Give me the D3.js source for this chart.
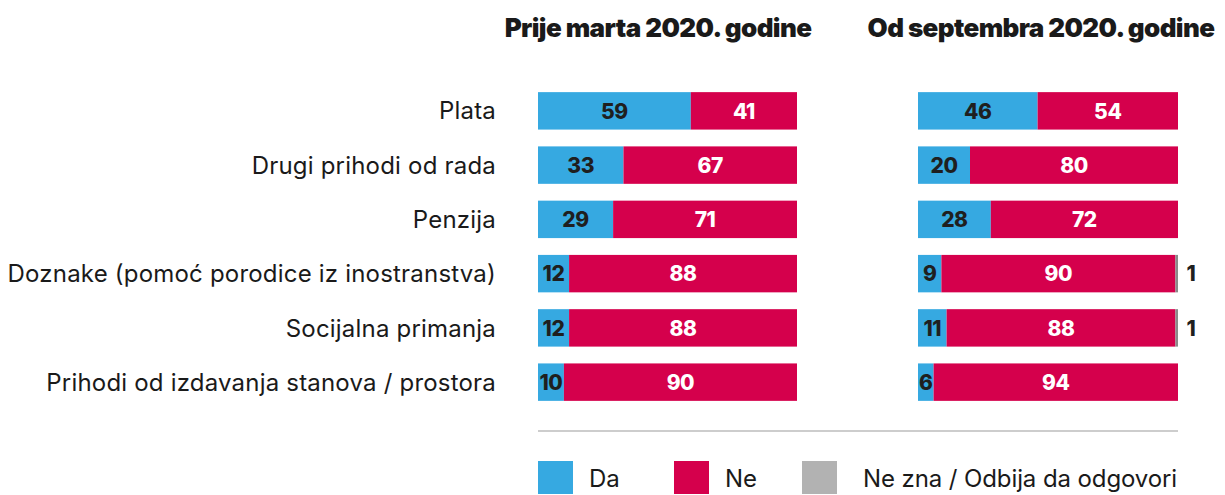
<!DOCTYPE html>
<html>
<head>
    <meta charset="utf-8">
    <title>Prihodi prije i poslije</title>
    <style>
        body, html {
            margin: 0;
            padding: 0;
            width: 100%;
            height: 100%;
            overflow: hidden;
            background: #fff;
        }
        #chart {
            width: 1225px;
            height: 495px;
        }
        text {
            font-family: Inter, "Noto Sans", sans-serif;
        }
    </style>
    <script src="https://d3js.org/d3.v7.min.js"></script>
</head>
<body>

<svg id="chart"></svg>

<script>
const categories = [
    'Plata',
    'Drugi prihodi od rada',
    'Penzija',
    'Doznake (pomoć porodice iz inostranstva)',
    'Socijalna primanja',
    'Prihodi od izdavanja stanova / prostora'
];
const panelTitles = ['Prije marta 2020. godine', 'Od septembra 2020. godine'];

const beforeDa = [59, 33, 29, 12, 12, 10];
const beforeNe = [41, 67, 71, 88, 88, 90];
const beforeNz = [0, 0, 0, 0, 0, 0];

const afterDa = [46, 20, 28, 9, 11, 6];
const afterNe = [54, 80, 72, 90, 88, 94];
const afterNz = [0, 0, 0, 1, 1, 0];

const legendLabels = ['Da', 'Ne', 'Ne zna / Odbija da odgovori'];

const blue = '#36a9e1';
const red = '#d5004c';
const grey = '#8a8a8a';
const legendGrey = '#b2b2b2';

const svg = d3.select('#chart');

const y = d3.scaleBand()
    .domain(categories)
    .range([84, 409])
    .paddingInner(0.31)
    .paddingOuter(0.15);

const panels = [
    { title: panelTitles[0], da: beforeDa, ne: beforeNe, nz: beforeNz, x0: 538, x1: 797, titleX: 658 },
    { title: panelTitles[1], da: afterDa, ne: afterNe, nz: afterNz, x0: 918, x1: 1178, titleX: 1041 }
];

// category labels
svg.append('g').selectAll('text')
    .data(categories)
    .enter().append('text')
    .attr('x', 496)
    .attr('y', d => y(d) + y.bandwidth() / 2)
    .attr('dy', '0.36em')
    .attr('text-anchor', 'end')
    .attr('font-size', 24)
    .attr('letter-spacing', 0.2)
    .attr('fill', '#1a1a1a')
    .text(d => d);

panels.forEach(p => {
    const x = d3.scaleLinear().domain([0, 100]).range([p.x0, p.x1]);
    const g = svg.append('g');

    g.append('text')
        .attr('x', p.titleX)
        .attr('y', 37)
        .attr('text-anchor', 'middle')
        .attr('font-size', 26)
        .attr('font-weight', 900)
        .attr('letter-spacing', -0.6)
        .attr('fill', '#1a1a1a')
        .text(p.title);

    const rows = categories.map((c, i) => ({
        cat: c,
        segs: [
            { key: 'da', start: 0, val: p.da[i], fill: blue, txt: '#1f1f1f' },
            { key: 'ne', start: p.da[i], val: p.ne[i], fill: red, txt: '#fff' },
            { key: 'nz', start: p.da[i] + p.ne[i], val: p.nz[i], fill: grey, txt: '#1f1f1f' }
        ]
    }));

    const row = g.selectAll('.row')
        .data(rows)
        .enter().append('g')
        .attr('class', 'row')
        .attr('transform', d => `translate(0,${y(d.cat)})`);

    row.selectAll('rect')
        .data(d => d.segs.filter(s => s.val > 0))
        .enter().append('rect')
        .attr('x', s => x(s.start))
        .attr('y', 0)
        .attr('width', s => x(s.start + s.val) - x(s.start))
        .attr('height', y.bandwidth())
        .attr('fill', s => s.fill);

    row.selectAll('text')
        .data(d => d.segs.filter(s => s.val > 0))
        .enter().append('text')
        .attr('x', s => s.key === 'nz' ? x(100) + 13 : x(s.start + s.val / 2))
        .attr('y', y.bandwidth() / 2)
        .attr('dy', '0.37em')
        .attr('text-anchor', 'middle')
        .attr('font-size', 21)
        .attr('font-weight', 800)
        .attr('letter-spacing', -0.4)
        .attr('fill', s => s.txt)
        .text(s => s.val);
});

// separator
svg.append('line')
    .attr('x1', 538).attr('x2', 1178)
    .attr('y1', 431).attr('y2', 431)
    .attr('stroke', '#bdbdbd')
    .attr('stroke-width', 1.5);

// legend
const legendX = [538, 674, 802];
const legendColors = [blue, red, legendGrey];
const legend = svg.append('g').selectAll('g')
    .data(legendLabels)
    .enter().append('g')
    .attr('transform', (d, i) => `translate(${legendX[i]},461)`);

legend.append('rect')
    .attr('width', 35)
    .attr('height', 33)
    .attr('fill', (d, i) => legendColors[i]);

legend.append('text')
    .attr('x', (d, i) => i === 2 ? 61 : 51)
    .attr('y', 17)
    .attr('dy', '0.36em')
    .attr('font-size', 24)
    .attr('letter-spacing', -0.1)
    .attr('fill', '#1a1a1a')
    .text(d => d);
</script>

</body>
</html>
